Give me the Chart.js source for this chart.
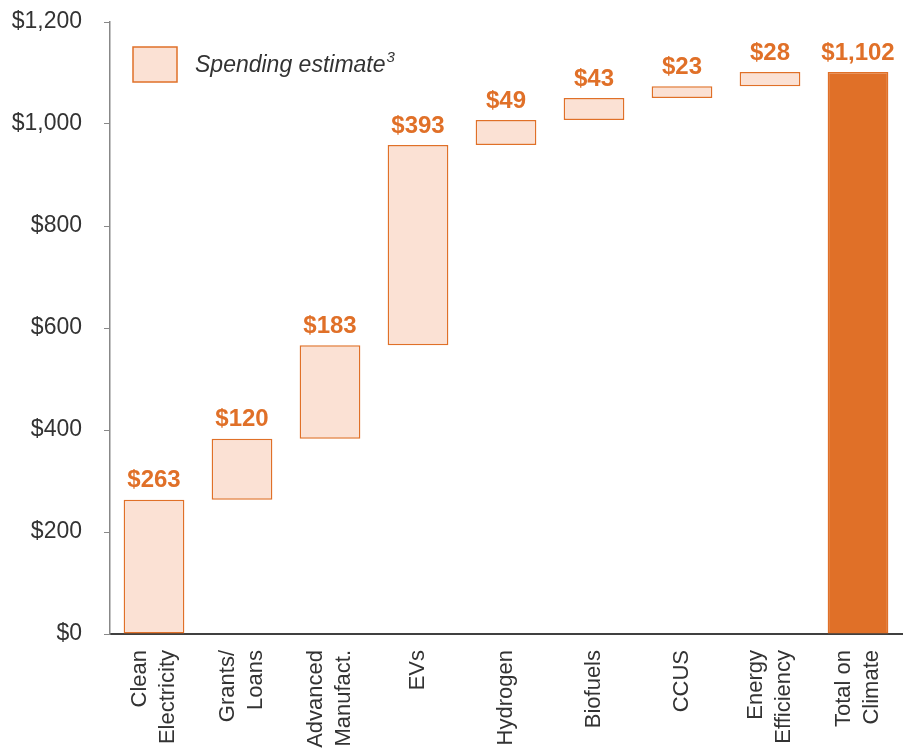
<!DOCTYPE html>
<html>
<head>
<meta charset="utf-8">
<script src="https://cdn.jsdelivr.net/npm/chart.js@4"></script>
<style>
  html, body { margin: 0; padding: 0; background: #fff; }
  #wrap { width: 909px; height: 752px; }
</style>
</head>
<body>
<div id="wrap"><canvas id="chart" width="909" height="752"></canvas></div>
<script>
// categories (two-line labels) and spending values ($bn)
const categories = [
  ['Clean', 'Electricity'],
  ['Grants/', 'Loans'],
  ['Advanced', 'Manufact.'],
  ['EVs'],
  ['Hydrogen'],
  ['Biofuels'],
  ['CCUS'],
  ['Energy', 'Efficiency'],
  ['Total on', 'Climate']
];
const spending = [263, 120, 183, 393, 49, 43, 23, 28];
const total = 1102;
const yTicks = [0, 200, 400, 600, 800, 1000, 1200];

const orange = '#E07028';
const lightFill = '#FBE1D4';
const fontFamily = '"Liberation Sans", Arial, sans-serif';
const xFontSize = 22;
const xLineHeight = 1.25;

// build floating bars: each step starts where the previous one ended
let running = 0;
const floats = spending.map(v => {
  const bar = [running, running + v];
  running += v;
  return bar;
});
floats.push([0, total]);
const labelValues = spending.concat([total]);

const fmt = v => '$' + v.toLocaleString('en-US');

// centre two-line rotated category labels on their bar
const centreLabels = {
  id: 'centreLabels',
  beforeDraw(chart) {
    const items = chart.scales.x.getLabelItems();
    items.forEach(item => {
      if (Array.isArray(item.label) && item.label.length > 1 && !item._shifted) {
        item.options.translation[0] -= (item.label.length - 1) * xFontSize * xLineHeight / 2;
        item._shifted = true;
      }
    });
  }
};

// value labels above bars + legend in the plot area
const annotate = {
  id: 'annotate',
  afterDatasetsDraw(chart) {
    const ctx = chart.ctx;
    const meta = chart.getDatasetMeta(0);
    ctx.save();
    ctx.fillStyle = orange;
    ctx.font = 'bold 24px ' + fontFamily;
    ctx.textAlign = 'center';
    ctx.textBaseline = 'bottom';
    meta.data.forEach((bar, i) => {
      ctx.fillText(fmt(labelValues[i]), bar.x, bar.y - 7);
    });

    // legend
    ctx.fillStyle = lightFill;
    ctx.strokeStyle = orange;
    ctx.lineWidth = 1.5;
    ctx.fillRect(133, 47, 44, 35);
    ctx.strokeRect(133, 47, 44, 35);
    ctx.fillStyle = '#333';
    ctx.textAlign = 'left';
    ctx.textBaseline = 'middle';
    ctx.font = 'italic 23px ' + fontFamily;
    const txt = 'Spending estimate';
    ctx.fillText(txt, 195, 66);
    const w = ctx.measureText(txt).width;
    ctx.font = 'italic 15px ' + fontFamily;
    ctx.fillText('3', 195 + w + 1, 58);
    ctx.restore();
  }
};

new Chart(document.getElementById('chart'), {
  type: 'bar',
  data: {
    labels: categories,
    datasets: [{
      data: floats,
      backgroundColor: labelValues.map((v, i) => i === labelValues.length - 1 ? orange : lightFill),
      borderColor: orange,
      borderWidth: 1.5,
      borderSkipped: false,
      categoryPercentage: 1,
      barPercentage: 0.69
    }]
  },
  options: {
    responsive: false,
    animation: false,
    layout: { padding: { top: 22, right: 7, left: 12, bottom: 0 } },
    plugins: {
      legend: { display: false },
      tooltip: { enabled: false }
    },
    scales: {
      x: {
        grid: { display: false },
        border: { color: '#404040', width: 2 },
        ticks: {
          color: '#333',
          font: { family: fontFamily, size: xFontSize, lineHeight: xLineHeight },
          minRotation: 90,
          maxRotation: 90,
          autoSkip: false,
          padding: 8
        },
        afterFit(scale) {
          scale.height = 118;
          scale.paddingLeft = 0;
          scale.paddingRight = 0;
        }
      },
      y: {
        min: 0,
        max: 1200,
        afterBuildTicks(scale) { scale.ticks = yTicks.map(v => ({ value: v })); },
        grid: { drawOnChartArea: false, drawTicks: true, tickLength: 6, color: '#888' },
        border: { color: '#888', width: 1.5 },
        ticks: {
          color: '#333',
          font: { family: fontFamily, size: 23 },
          padding: 22,
          callback: v => fmt(v)
        },
        afterFit(scale) {
          scale.width = 98;
          scale.paddingTop = 0;
          scale.paddingBottom = 0;
        }
      }
    }
  },
  plugins: [centreLabels, annotate]
});
</script>
</body>
</html>
